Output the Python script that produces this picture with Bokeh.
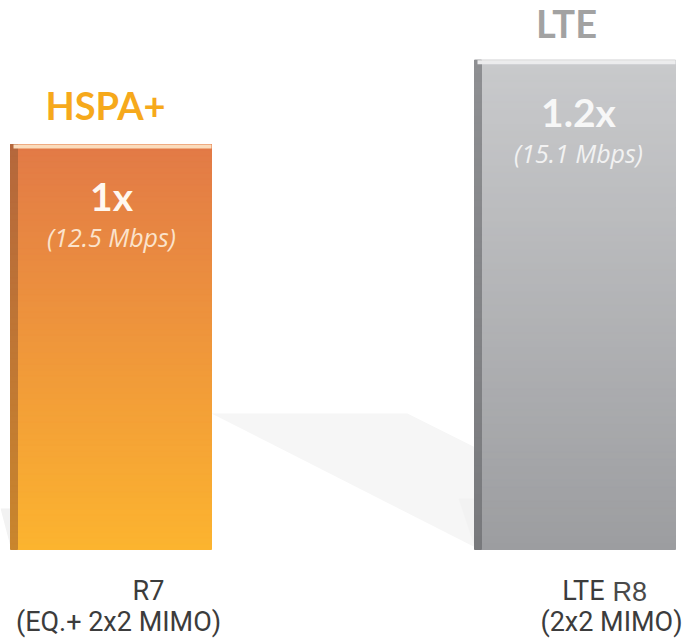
from bokeh.plotting import figure
from bokeh.models import Range1d
from bokeh.core.properties import value
from bokeh.embed import file_html
from bokeh.resources import INLINE

# ---- data ----
techs = ["HSPA+", "LTE"]
mbps = [12.5, 15.1]
ratio_labels = ["1x", "1.2x"]
rate_labels = ["(12.5 Mbps)", "(15.1 Mbps)"]
release_line1 = ["R7", "LTE R8"]
release_line2 = ["(EQ.+ 2x2 MIMO)", "(2x2 MIMO)"]

# ---- layout (pixels) ----
W, H = 685, 641
BASE_PX = 549          # pixel row of the bar bottoms
PX_PER_UNIT = 32.4     # pixels per Mbps
BAR_LEFT = [10, 474]
BAR_W = 201

def yd(px):
    """pixel row -> data value"""
    return (BASE_PX - px) / PX_PER_UNIT

p = figure(width=W, height=H, output_backend="svg", toolbar_location=None,
           x_axis_location=None, y_axis_location=None, min_border=0,
           x_range=Range1d(0, W), y_range=Range1d(yd(H), yd(0)))
p.outline_line_color = None
p.xgrid.grid_line_color = None
p.ygrid.grid_line_color = None
p.background_fill_color = "white"
p.border_fill_color = "white"

def hexc(c):
    return tuple(int(c[i:i + 2], 16) for i in (1, 3, 5))

def lerp(c1, c2, t):
    a, b = hexc(c1), hexc(c2)
    return "#%02x%02x%02x" % tuple(int(round(a[k] + (b[k] - a[k]) * t)) for k in range(3))

def txt(x, ypx, s, font, size, color, style="normal", align="center"):
    # compensate for where the renderer puts the alphabetic baseline
    p.text(x=[x], y=[yd(ypx - 0.37 * size)], text=[s],
           text_font=value(font), text_font_style=style, text_font_size="%dpx" % size,
           text_color=color, text_align=align, text_baseline="alphabetic")

# floor shadow between the bars
p.patch(x=[211, 407, 475, 475], y=[yd(413), yd(413), yd(447), yd(547)],
        fill_color="#f6f6f6", line_color=None)
# soft shadows left of bars
p.patch(x=[0, 10, 10], y=[yd(508), yd(508), yd(546)], fill_color="#f2f2f2", line_color=None)
p.patch(x=[458, 474, 474], y=[yd(498), yd(498), yd(546)], fill_color="#f2f2f2", line_color=None)

grad = [("#e27a47", "#fcb42f"), ("#c9cacc", "#9c9da0")]
bevel = [("#b5673c", "#c9862d"), ("#8e8f92", "#78797c")]
top_strip = ["#fbdcbc", "#ececed"]
N = 70
for i, v in enumerate(mbps):
    x0 = BAR_LEFT[i]
    x1 = x0 + BAR_W
    bots, tops, cols, bcols = [], [], [], []
    step = v / N
    for k in range(N):
        frac = 1 - (k + 0.5) / N  # 0 at top, 1 at bottom
        bots.append(step * k)
        tops.append(min(v, step * (k + 2)))
        cols.append(lerp(grad[i][0], grad[i][1], frac))
        bcols.append(lerp(bevel[i][0], bevel[i][1], frac))
    p.quad(left=[x0 + 7] * N, right=[x1] * N, bottom=bots, top=tops,
           fill_color=cols, line_color=cols, line_width=1)
    p.quad(left=[x0] * N, right=[x0 + 7] * N, bottom=bots, top=tops,
           fill_color=bcols, line_color=bcols, line_width=1)
    # top bevel
    p.quad(left=[x0 + 3], right=[x1], bottom=[v - 4 / PX_PER_UNIT], top=[v],
           fill_color=top_strip[i], line_color=None)

# titles above bars
title_colors = ["#f6a91b", "#a2a2a2"]
title_x = [105, 566]
title_gap = [25, 23]
for i, v in enumerate(mbps):
    top_px = BASE_PX - v * PX_PER_UNIT
    txt(title_x[i], top_px - title_gap[i], techs[i], "Lato", 38, title_colors[i], "bold")

# labels inside bars
inner_x = [111, 578]
ratio_colors = ["#fff8f0", "#f7f7f7"]
rate_colors = ["#fbe3cc", "#f2f2f2"]
for i, v in enumerate(mbps):
    top_px = BASE_PX - v * PX_PER_UNIT
    txt(inner_x[i], top_px + 66, ratio_labels[i], "Lato", 39, ratio_colors[i], "bold")
    txt(inner_x[i], top_px + 102, rate_labels[i], "Open Sans", 25, rate_colors[i], "italic")

# release labels below
txt(148, 600, release_line1[0], "Roboto", 27, "#3c3c3c")
txt(118, 631, release_line2[0], "Roboto", 27, "#3c3c3c")
first, second = release_line1[1].split(" ")
txt(604, 600, first, "Roboto", 27, "#3c3c3c", align="right")
txt(612, 601, second, "Liberation Sans", 27, "#4a4a4a", align="left")
txt(611, 631, release_line2[1], "Roboto", 27, "#3c3c3c")

open("out.html", "w").write(file_html(p, INLINE))
